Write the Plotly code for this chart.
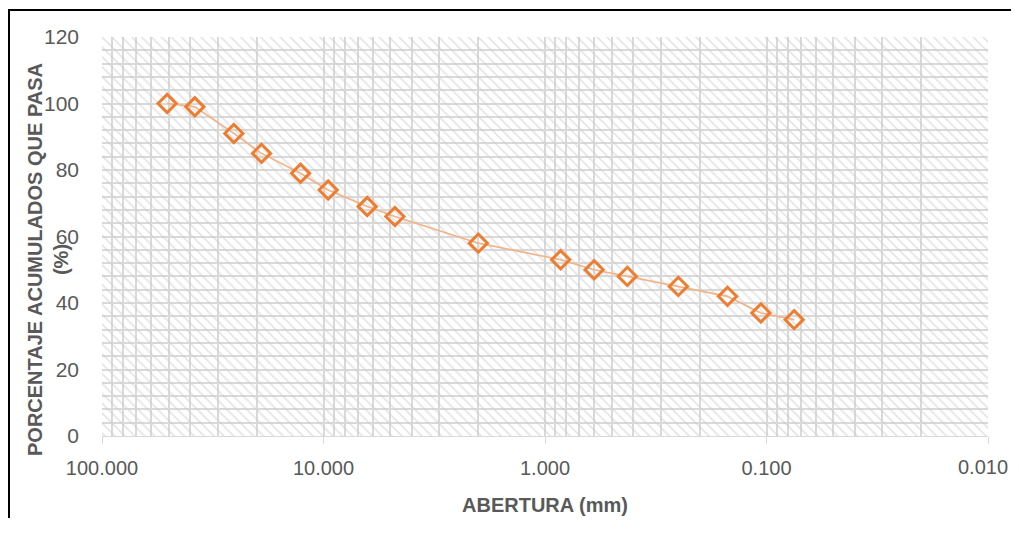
import plotly.graph_objects as go

# Data
abertura_mm = [50.8, 38.1, 25.4, 19.05, 12.7, 9.525, 6.35, 4.76, 2.0, 0.85, 0.6, 0.425, 0.25, 0.15, 0.106, 0.075]
pasa_pct = [100, 99, 91, 85, 79, 74, 69, 66, 58, 53, 50, 48, 45, 42, 37, 35]

x_tickvals = [100, 10, 1, 0.1, 0.01]
x_ticktext = ["100.000", "10.000", "1.000", "0.100", "0.010"]
minor_mult = [2, 3, 4, 5, 6, 7, 8, 9]
decades = [0.01, 0.1, 1, 10]
x_minor = [m * d for d in decades for m in minor_mult]

OFF = 8  # page body margin
W, H = 1019 - OFF, 510
L, R, T = 102 - OFF, 31, 37 - OFF
B = H - (436 - OFF)
pw, ph = W - L - R, H - T - B

def px(x):  # reference pixel x -> paper
    return (x - OFF - L) / pw

def py(y):  # reference pixel y -> paper
    return (H - B - (y - OFF)) / ph

grid = "#d9d9d9"
txt = "#595959"
FONT = "Liberation Sans"

fig = go.Figure()

# hatched plot background
fig.add_trace(go.Scatter(
    x=[100, 0.01, 0.01, 100, 100], y=[0, 0, 120, 120, 0],
    mode="lines", line=dict(width=0), fill="toself",
    fillcolor="rgba(0,0,0,0)",
    fillpattern=dict(shape="\\", fgcolor="#cccccc", bgcolor="rgba(0,0,0,0)", size=7, solidity=0.25),
    hoverinfo="skip", showlegend=False,
))

fig.add_trace(go.Scatter(
    x=abertura_mm, y=pasa_pct, mode="lines+markers",
    line=dict(color="#F4B183", width=1.6),
    marker=dict(symbol="diamond-open", size=14, color="#ED7D31", line=dict(width=3, color="#ED7D31")),
    showlegend=False,
))

# last tick label is drawn as an annotation so it stays inside the visible page
fig.update_xaxes(
    type="log", range=[2, -2], automargin=False,
    tickvals=x_tickvals, ticktext=x_ticktext[:-1] + [""],
    showgrid=True, gridcolor=grid, gridwidth=1.8,
    ticks="outside", ticklen=7, tickcolor=grid,
    showline=True, linecolor=grid, linewidth=1,
    minor=dict(tickvals=x_minor, showgrid=True, gridcolor=grid, gridwidth=1.8, ticks=""),
    tickfont=dict(family=FONT, size=20, color=txt),
    ticklabelstandoff=7,
    zeroline=False,
)
fig.update_yaxes(
    range=[0, 120], dtick=20, tick0=0, automargin=False,
    showgrid=True, gridcolor=grid, gridwidth=1.8,
    minor=dict(dtick=4, showgrid=True, gridcolor=grid, gridwidth=1.8),
    showline=False, zeroline=False,
    tickfont=dict(family=FONT, size=21, color=txt),
    ticklabelstandoff=22,
)

fig.add_annotation(
    text=x_ticktext[-1], xref="paper", yref="paper",
    x=px(1010), y=py(467), showarrow=False,
    font=dict(family=FONT, size=20, color=txt), xanchor="right", yanchor="middle",
)
fig.add_annotation(
    text="<b>ABERTURA (mm)</b>", xref="paper", yref="paper",
    x=px(545), y=py(505), showarrow=False,
    font=dict(family=FONT, size=20, color=txt), xanchor="center", yanchor="middle",
)
fig.add_annotation(
    text="<b>PORCENTAJE ACUMULADOS QUE PASA<br>(%)</b>", xref="paper", yref="paper",
    x=px(48), y=py(260), showarrow=False, textangle=-90,
    font=dict(family=FONT, size=20, color=txt), xanchor="center", yanchor="middle",
)

# outer chart border (left and top visible)
fig.add_shape(type="path", xref="paper", yref="paper",
              path=f"M {px(9)} -0.5 L {px(9)} {py(10)} L 1.2 {py(10)}",
              line=dict(color="black", width=2))

fig.update_layout(
    width=W, height=H,
    margin=dict(l=L, r=R, t=T, b=B),
    paper_bgcolor="white", plot_bgcolor="white",
    showlegend=False,
)

fig.write_html("out.html")
